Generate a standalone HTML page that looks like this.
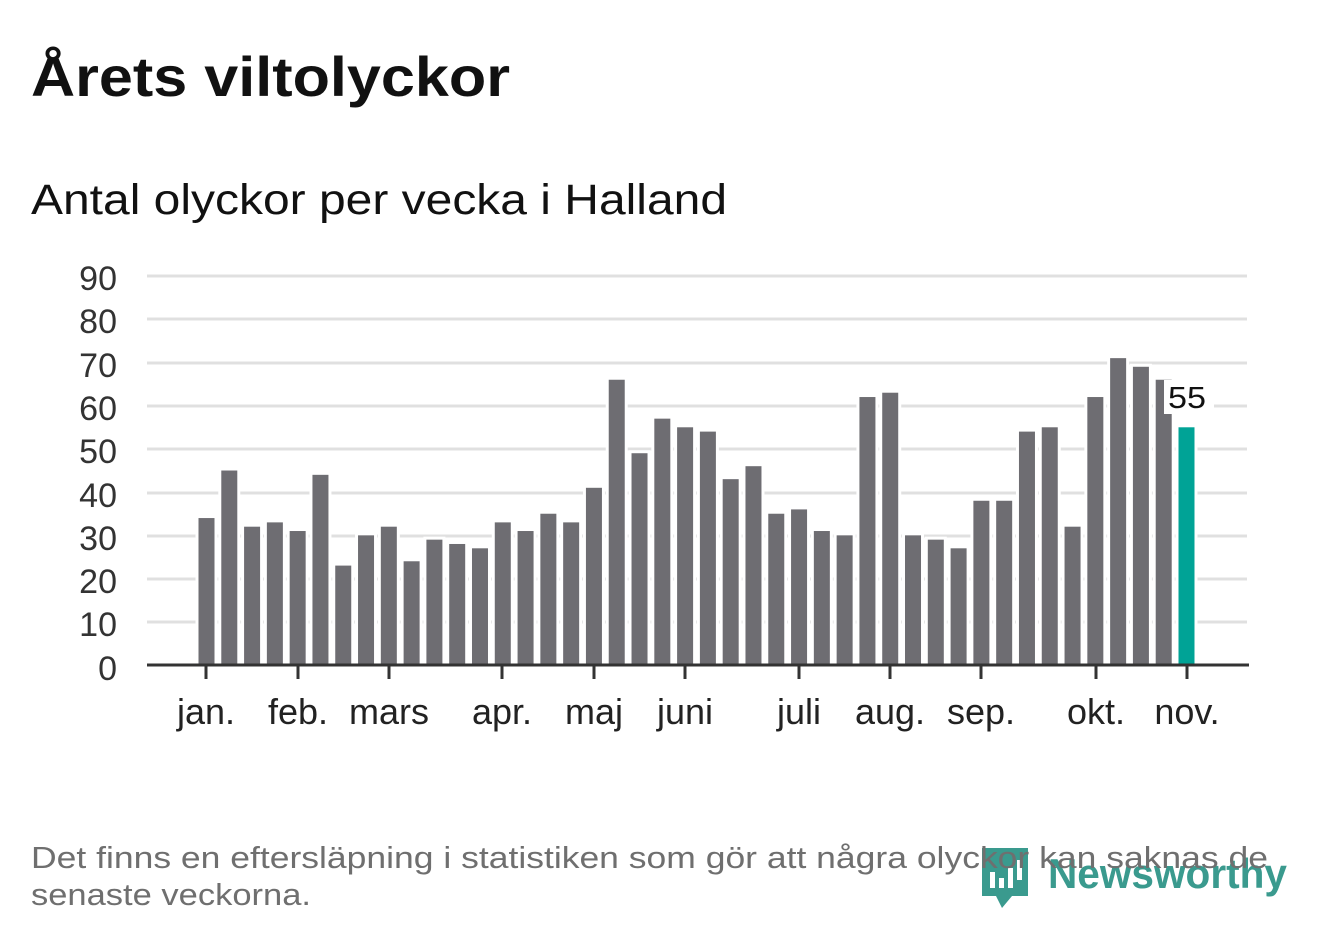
<!DOCTYPE html>
<html><head><meta charset="utf-8"><style>
body{margin:0;background:#fff;}
svg text{font-family:"Liberation Sans",sans-serif;}
</style></head><body>
<svg width="1322" height="939" xmlns="http://www.w3.org/2000/svg">
<text x="31" y="96" font-size="56" font-weight="bold" fill="#111" textLength="479" lengthAdjust="spacingAndGlyphs">Årets viltolyckor</text>
<text x="31" y="214" font-size="43" fill="#111" textLength="696" lengthAdjust="spacingAndGlyphs">Antal olyckor per vecka i Halland</text>
<g stroke="#e0e0e0" stroke-width="3">
<line x1="147" x2="1247" y1="276" y2="276"/><line x1="147" x2="1247" y1="319" y2="319"/>
<line x1="147" x2="1247" y1="363" y2="363"/><line x1="147" x2="1247" y1="406" y2="406"/>
<line x1="147" x2="1247" y1="449" y2="449"/><line x1="147" x2="1247" y1="493" y2="493"/>
<line x1="147" x2="1247" y1="536" y2="536"/><line x1="147" x2="1247" y1="579" y2="579"/>
<line x1="147" x2="1247" y1="622" y2="622"/>
</g>
<g font-size="34" fill="#333" text-anchor="end">
<text x="117" y="290">90</text><text x="117" y="333">80</text><text x="117" y="377">70</text>
<text x="117" y="420">60</text><text x="117" y="463">50</text><text x="117" y="507">40</text>
<text x="117" y="550">30</text><text x="117" y="593">20</text><text x="117" y="636">10</text>
<text x="117" y="680">0</text>
</g>
<g id="bars" stroke="#fff" stroke-width="6" paint-order="stroke"></g>
<rect x="1164" y="380" width="50" height="34" fill="#fff"/>
<text x="1168" y="408" font-size="31" fill="#111" textLength="38" lengthAdjust="spacingAndGlyphs">55</text>
<line x1="147" x2="1249" y1="665" y2="665" stroke="#333" stroke-width="3"/>
<g stroke="#333" stroke-width="3">
<line x1="206" x2="206" y1="665" y2="679"/><line x1="298" x2="298" y1="665" y2="679"/>
<line x1="389" x2="389" y1="665" y2="679"/><line x1="502" x2="502" y1="665" y2="679"/>
<line x1="594" x2="594" y1="665" y2="679"/><line x1="685" x2="685" y1="665" y2="679"/>
<line x1="799" x2="799" y1="665" y2="679"/><line x1="890" x2="890" y1="665" y2="679"/>
<line x1="981" x2="981" y1="665" y2="679"/><line x1="1096" x2="1096" y1="665" y2="679"/>
<line x1="1187" x2="1187" y1="665" y2="679"/>
</g>
<g font-size="36" fill="#222" text-anchor="middle">
<text x="206" y="724">jan.</text><text x="298" y="724">feb.</text><text x="389" y="724">mars</text>
<text x="502" y="724">apr.</text><text x="594" y="724">maj</text><text x="685" y="724">juni</text>
<text x="799" y="724">juli</text><text x="890" y="724">aug.</text><text x="981" y="724">sep.</text>
<text x="1096" y="724">okt.</text><text x="1187" y="724">nov.</text>
</g>
<g transform="translate(982,848)">
<path d="M0 0 H46 V48 H30 L20 60 L14 48 H0 Z" fill="#3a9a8e"/>
<rect x="8" y="24" width="5" height="16" fill="#fff"/><rect x="17" y="30" width="5" height="10" fill="#fff"/>
<rect x="26" y="20" width="5" height="20" fill="#fff"/><rect x="35" y="12" width="5" height="20" fill="#fff"/>
</g>
<text x="1048" y="888" font-size="42" font-weight="bold" fill="#3a9a8e" textLength="239" lengthAdjust="spacingAndGlyphs">Newsworthy</text>
<text x="31" y="868" font-size="31" fill="#6f6f6f" textLength="1237" lengthAdjust="spacingAndGlyphs">Det finns en eftersläpning i statistiken som gör att några olyckor kan saknas de</text>
<text x="31" y="905" font-size="31" fill="#6f6f6f" textLength="280" lengthAdjust="spacingAndGlyphs">senaste veckorna.</text>
</svg>
<script>
var v=[34,45,32,33,31,44,23,30,32,24,29,28,27,33,31,35,33,41,66,49,57,55,54,43,46,35,36,31,30,62,63,30,29,27,38,38,54,55,32,62,71,69,66,55];
var g=document.getElementById('bars'),s='';
for(var i=0;i<v.length;i++){var cx=206.5+i*(980/43),h=v[i]*4.322;
s+='<rect x="'+(cx-8)+'" y="'+(665-h)+'" width="16" height="'+h+'" fill="'+(i==v.length-1?'#00a396':'#6e6d72')+'"/>';}
g.innerHTML=s;
</script>
</body></html>
